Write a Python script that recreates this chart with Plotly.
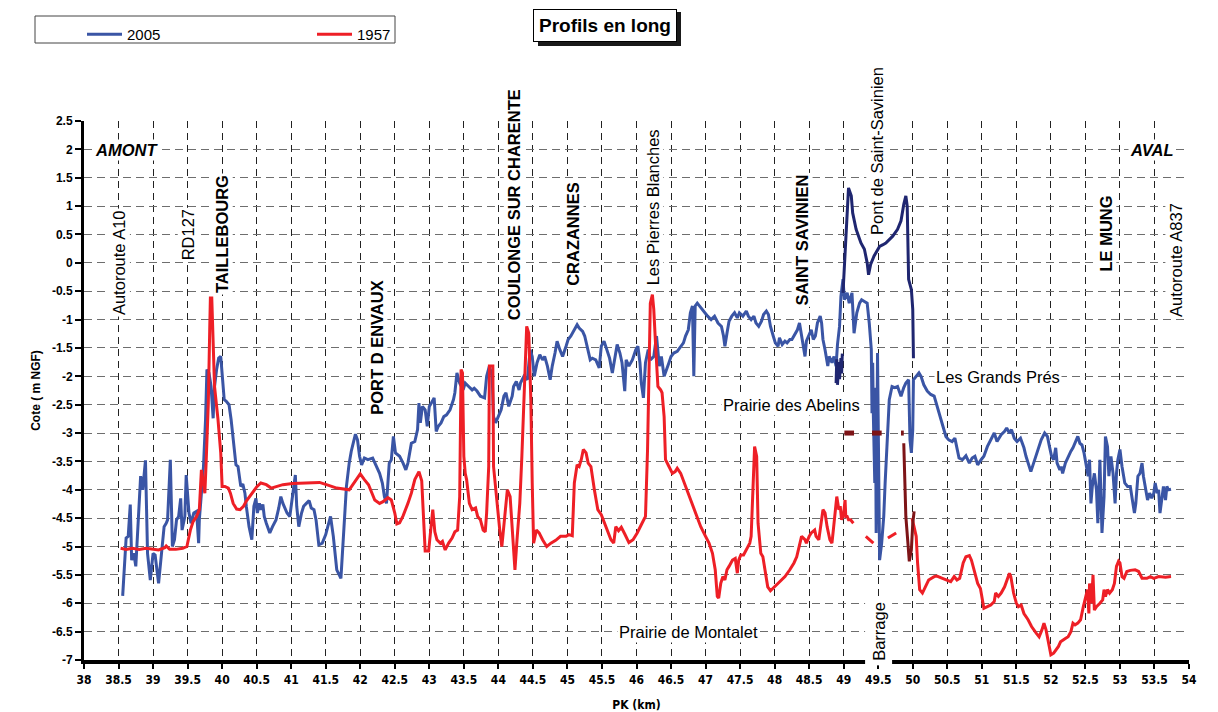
import plotly.graph_objects as go

# ---------------- data (PK in km, cote in m NGF) ----------------
profil_2005 = [
    (38.56, -5.87), (38.61, -4.85), (38.64, -4.82), (38.67, -4.26), (38.69, -5.24), (38.72, -5.12),
    (38.75, -5.35), (38.82, -3.76), (38.85, -4.0), (38.89, -3.48), (38.92, -5.12), (38.96, -5.59),
    (39.0, -5.12), (39.03, -5.15), (39.08, -5.65), (39.12, -5.12), (39.16, -4.65), (39.19, -4.59),
    (39.21, -4.53), (39.25, -3.47), (39.28, -5.0), (39.31, -4.88), (39.34, -4.53), (39.37, -4.47),
    (39.40, -4.15), (39.42, -4.71), (39.46, -4.47), (39.48, -3.74), (39.52, -4.41), (39.55, -4.59),
    (39.59, -4.41), (39.63, -4.38), (39.66, -4.94), (39.67, -4.53), (39.70, -4.06), (39.73, -3.59),
    (39.76, -2.76), (39.78, -1.88), (39.81, -1.94), (39.84, -2.18), (39.87, -2.74), (39.89, -2.18),
    (39.92, -1.88), (39.95, -1.68), (39.98, -1.65), (40.0, -2.0), (40.03, -2.41), (40.06, -2.44),
    (40.1, -2.5), (40.13, -2.76), (40.16, -3.12), (40.2, -3.56), (40.23, -3.59), (40.27, -3.94),
    (40.3, -3.9), (40.33, -4.06), (40.35, -4.29), (40.39, -4.65), (40.43, -4.88), (40.46, -4.29),
    (40.49, -4.15), (40.51, -4.41), (40.54, -4.24), (40.56, -4.35), (40.59, -4.26), (40.61, -4.47),
    (40.64, -4.59), (40.69, -4.76), (40.73, -4.65), (40.78, -4.53), (40.82, -4.32), (40.85, -4.12),
    (40.88, -4.24), (40.9, -4.29), (40.94, -4.41), (40.98, -4.47), (41.02, -4.12), (41.06, -3.74),
    (41.08, -4.29), (41.11, -4.65), (41.15, -4.41), (41.18, -4.29), (41.22, -4.24), (41.26, -4.19),
    (41.29, -4.32), (41.33, -4.35), (41.36, -4.53), (41.4, -4.97), (41.45, -4.94), (41.5, -4.79),
    (41.53, -4.65), (41.57, -4.47), (41.61, -4.82), (41.66, -5.41), (41.72, -5.56), (41.75, -5.0),
    (41.8, -3.94), (41.84, -3.53), (41.87, -3.32), (41.93, -3.02), (41.96, -3.12), (41.99, -3.41),
    (42.02, -3.56), (42.06, -3.44), (42.11, -3.47), (42.18, -3.44), (42.23, -3.59), (42.28, -3.71),
    (42.32, -3.88), (42.35, -4.12), (42.38, -4.24), (42.42, -3.53), (42.45, -3.47), (42.48, -3.06),
    (42.51, -3.35), (42.57, -3.41), (42.62, -3.53), (42.66, -3.65), (42.69, -3.53), (42.74, -3.18),
    (42.79, -3.15), (42.83, -2.94), (42.85, -2.47), (42.87, -2.82), (42.9, -2.53), (42.94, -2.59),
    (42.97, -2.88), (43.0, -2.53), (43.03, -2.47), (43.07, -2.38), (43.1, -2.97), (43.13, -2.88),
    (43.17, -2.82), (43.21, -2.71), (43.25, -2.68), (43.3, -2.59), (43.35, -2.41), (43.37, -2.29),
    (43.4, -1.94), (43.44, -2.12), (43.49, -2.24), (43.52, -2.12), (43.57, -2.18), (43.62, -2.24),
    (43.65, -2.21), (43.69, -2.26), (43.74, -2.35), (43.8, -2.38), (43.83, -2.0), (43.87, -1.82),
    (43.91, -2.0), (43.93, -2.71), (43.96, -2.82), (44.0, -2.71), (44.04, -2.59), (44.08, -2.35),
    (44.11, -2.29), (44.15, -2.53), (44.2, -2.35), (44.22, -2.18), (44.26, -2.09), (44.3, -2.24),
    (44.32, -2.12), (44.37, -2.0), (44.42, -2.06), (44.46, -1.53), (44.49, -1.65), (44.52, -2.0),
    (44.56, -1.76), (44.6, -1.62), (44.64, -1.71), (44.67, -1.65), (44.71, -1.82), (44.75, -2.06),
    (44.78, -1.82), (44.82, -1.59), (44.85, -1.38), (44.89, -1.53), (44.93, -1.65), (44.98, -1.47),
    (45.01, -1.35), (45.05, -1.29), (45.1, -1.18), (45.14, -1.09), (45.17, -1.15), (45.22, -1.21),
    (45.25, -1.29), (45.29, -1.53), (45.33, -1.71), (45.36, -1.68), (45.41, -1.71), (45.46, -1.85),
    (45.49, -1.47), (45.53, -1.38), (45.57, -1.53), (45.61, -1.68), (45.65, -1.94), (45.68, -1.71),
    (45.72, -1.44), (45.76, -1.59), (45.79, -1.76), (45.83, -2.26), (45.85, -1.71), (45.89, -1.82),
    (45.94, -1.71), (45.99, -1.53), (46.02, -1.47), (46.05, -1.76), (46.07, -2.12), (46.1, -2.38),
    (46.13, -1.76), (46.17, -1.53), (46.2, -1.71), (46.25, -1.65), (46.29, -1.29), (46.33, -1.82),
    (46.36, -1.65), (46.4, -2.0), (46.44, -1.88), (46.47, -1.76), (46.5, -1.65), (46.54, -1.59),
    (46.59, -1.56), (46.64, -1.47), (46.68, -1.41), (46.71, -1.29), (46.75, -1.18), (46.78, -0.88),
    (46.81, -0.76), (46.83, -2.0), (46.85, -0.76), (46.88, -0.71), (46.93, -0.79), (46.98, -0.88),
    (47.03, -0.94), (47.08, -1.0), (47.13, -0.94), (47.18, -1.06), (47.23, -1.12), (47.26, -1.29),
    (47.28, -1.47), (47.31, -1.24), (47.34, -1.03), (47.38, -0.94), (47.42, -0.88), (47.46, -0.97),
    (47.49, -0.88), (47.54, -0.94), (47.59, -0.85), (47.62, -0.94), (47.66, -1.0), (47.7, -0.94),
    (47.73, -1.06), (47.77, -1.12), (47.81, -1.03), (47.84, -0.91), (47.88, -0.85), (47.91, -0.91),
    (47.94, -1.12), (47.98, -1.29), (48.01, -1.41), (48.05, -1.47), (48.07, -1.32), (48.11, -1.44),
    (48.15, -1.38), (48.18, -1.41), (48.22, -1.35), (48.25, -1.35), (48.29, -1.26), (48.33, -1.18),
    (48.36, -1.06), (48.39, -1.29), (48.41, -1.41), (48.44, -1.65), (48.46, -1.38), (48.49, -1.29),
    (48.51, -1.24), (48.53, -1.18), (48.56, -1.35), (48.59, -1.29), (48.62, -1.06), (48.66, -0.94),
    (48.68, -1.06), (48.7, -1.35), (48.73, -1.53), (48.77, -1.82), (48.79, -1.65), (48.83, -1.76),
    (48.86, -1.65), (48.89, -1.82), (48.91, -1.44), (48.94, -1.12), (48.96, -0.59), (48.99, -0.29),
    (49.01, -0.65), (49.05, -0.53), (49.08, -0.71), (49.12, -0.53), (49.15, -1.24), (49.19, -0.88),
    (49.23, -0.71), (49.26, -0.65), (49.3, -0.68), (49.34, -0.71), (49.37, -1.06), (49.4, -1.53),
    (49.41, -2.65), (49.42, -1.76), (49.43, -2.71), (49.45, -3.88), (49.46, -2.2), (49.47, -4.76),
    (49.49, -1.59), (49.51, -4.47), (49.52, -5.24), (49.55, -4.94), (49.58, -4.47), (49.6, -3.88),
    (49.63, -3.0), (49.66, -2.41), (49.7, -2.18), (49.74, -2.2), (49.78, -2.18), (49.83, -2.35),
    (49.87, -2.2), (49.9, -2.12), (49.94, -2.06), (49.96, -3.12), (49.98, -3.35), (50.0, -2.94),
    (50.01, -2.06), (50.05, -2.0), (50.09, -1.94), (50.12, -2.0), (50.16, -2.15), (50.21, -2.26),
    (50.26, -2.32), (50.31, -2.35), (50.34, -2.47), (50.38, -2.65), (50.41, -2.76), (50.45, -2.94),
    (50.48, -3.06), (50.52, -3.12), (50.57, -3.15), (50.61, -3.09), (50.65, -3.29), (50.67, -3.44),
    (50.72, -3.47), (50.77, -3.4), (50.82, -3.53), (50.86, -3.44), (50.9, -3.41), (50.94, -3.56),
    (50.99, -3.47), (51.03, -3.41), (51.08, -3.24), (51.13, -3.12), (51.18, -3.0), (51.22, -3.15),
    (51.25, -3.09), (51.28, -3.03), (51.33, -2.97), (51.36, -2.91), (51.4, -3.0), (51.43, -2.94),
    (51.47, -3.09), (51.51, -3.15), (51.56, -3.09), (51.61, -3.26), (51.64, -3.41), (51.68, -3.59),
    (51.71, -3.68), (51.75, -3.53), (51.79, -3.38), (51.82, -3.26), (51.86, -3.12), (51.91, -3.0),
    (51.95, -3.06), (51.98, -3.24), (52.01, -3.41), (52.04, -3.47), (52.07, -3.26), (52.09, -3.53),
    (52.13, -3.65), (52.15, -3.59), (52.17, -3.71), (52.21, -3.53), (52.25, -3.41), (52.29, -3.32),
    (52.32, -3.26), (52.35, -3.18), (52.39, -3.06), (52.42, -3.18), (52.45, -3.21), (52.48, -3.35),
    (52.51, -3.53), (52.54, -3.76), (52.56, -3.47), (52.58, -4.24), (52.6, -3.94), (52.63, -3.71),
    (52.66, -4.0), (52.68, -4.59), (52.71, -3.47), (52.73, -4.35), (52.74, -4.76), (52.77, -4.12),
    (52.79, -3.06), (52.82, -3.24), (52.84, -3.76), (52.87, -3.41), (52.9, -3.71), (52.93, -4.24),
    (52.95, -3.71), (52.97, -3.47), (53.0, -3.29), (53.03, -3.59), (53.07, -3.88), (53.11, -3.94),
    (53.15, -3.94), (53.18, -4.18), (53.21, -4.41), (53.23, -4.24), (53.26, -3.76), (53.29, -3.71),
    (53.32, -3.53), (53.34, -3.76), (53.37, -3.94), (53.4, -4.18), (53.43, -4.06), (53.46, -4.15),
    (53.49, -4.06), (53.51, -3.88), (53.54, -4.06), (53.56, -4.0), (53.58, -4.41), (53.61, -4.12),
    (53.63, -3.94), (53.66, -4.18), (53.68, -3.94), (53.7, -4.0), (53.74, -3.99),
]

profil_1957 = [
    (38.53, -5.03), (38.61, -5.05), (38.7, -5.03), (38.8, -5.05), (38.9, -5.03), (39.0, -5.05),
    (39.08, -5.06), (39.17, -5.02), (39.19, -4.99), (39.24, -5.05), (39.33, -5.05), (39.43, -5.03),
    (39.49, -5.0), (39.54, -4.71), (39.58, -4.56), (39.63, -4.47), (39.67, -4.35), (39.7, -3.65),
    (39.72, -3.82), (39.75, -4.06), (39.77, -3.47), (39.8, -2.47), (39.82, -1.2), (39.83, -0.62),
    (39.85, -0.62), (39.87, -1.4), (39.89, -2.18), (39.94, -2.76), (39.98, -3.35), (40.0, -3.94),
    (40.04, -3.94), (40.09, -3.97), (40.12, -4.06), (40.16, -4.24), (40.21, -4.34), (40.26, -4.35),
    (40.31, -4.29), (40.35, -4.2), (40.43, -4.06), (40.5, -3.95), (40.56, -3.88), (40.64, -3.91),
    (40.71, -3.97), (40.78, -3.94), (40.88, -3.91), (41.02, -3.89), (41.22, -3.88), (41.41, -3.87),
    (41.51, -3.91), (41.66, -3.97), (41.84, -4.0), (41.92, -3.85), (42.0, -3.72), (42.06, -3.82),
    (42.12, -3.91), (42.17, -4.06), (42.21, -4.18), (42.28, -4.24), (42.33, -4.21), (42.4, -4.14),
    (42.45, -4.18), (42.5, -4.41), (42.53, -4.6), (42.57, -4.58), (42.62, -4.46), (42.69, -4.24),
    (42.74, -4.06), (42.79, -3.82), (42.85, -3.68), (42.89, -3.84), (42.92, -4.56), (42.94, -5.08),
    (42.99, -5.08), (43.02, -4.73), (43.05, -4.35), (43.08, -4.74), (43.11, -4.88), (43.16, -4.94),
    (43.19, -4.91), (43.23, -5.06), (43.28, -4.94), (43.33, -4.85), (43.37, -4.74), (43.41, -4.71),
    (43.44, -4.12), (43.46, -1.88), (43.48, -1.94), (43.5, -3.41), (43.52, -3.71), (43.54, -3.82),
    (43.58, -4.24), (43.62, -4.35), (43.67, -4.32), (43.7, -4.47), (43.74, -4.53), (43.78, -4.71),
    (43.81, -4.74), (43.83, -4.41), (43.86, -3.59), (43.87, -1.82), (43.92, -1.82), (43.93, -3.59),
    (43.96, -4.0), (43.98, -4.24), (44.02, -4.71), (44.05, -5.0), (44.09, -4.47), (44.13, -4.0),
    (44.17, -4.12), (44.2, -4.76), (44.24, -5.41), (44.27, -4.88), (44.31, -4.24), (44.34, -3.41),
    (44.38, -2.12), (44.41, -1.12), (44.44, -1.24), (44.47, -2.41), (44.49, -3.88), (44.51, -4.94),
    (44.55, -4.71), (44.59, -4.76), (44.64, -4.88), (44.7, -5.0), (44.76, -4.94), (44.83, -4.89),
    (44.9, -4.82), (44.98, -4.82), (45.02, -4.79), (45.07, -4.81), (45.1, -3.88), (45.14, -3.56),
    (45.17, -3.59), (45.2, -3.47), (45.23, -3.29), (45.27, -3.35), (45.3, -3.53), (45.34, -3.59),
    (45.39, -4.0), (45.44, -4.35), (45.49, -4.44), (45.54, -4.59), (45.58, -4.7), (45.63, -4.88),
    (45.67, -4.94), (45.7, -4.65), (45.74, -4.72), (45.78, -4.66), (45.83, -4.78), (45.89, -4.93),
    (45.95, -4.88), (46.01, -4.76), (46.08, -4.59), (46.13, -4.47), (46.16, -3.29), (46.18, -1.53),
    (46.2, -0.71), (46.23, -0.56), (46.25, -0.82), (46.28, -1.53), (46.31, -2.18), (46.35, -2.24),
    (46.37, -2.29), (46.4, -2.71), (46.42, -3.47), (46.47, -3.59), (46.52, -3.71), (46.56, -3.68),
    (46.59, -3.62), (46.64, -3.71), (46.71, -3.94), (46.79, -4.18), (46.86, -4.41), (46.93, -4.65),
    (47.0, -4.82), (47.05, -4.94), (47.1, -5.12), (47.14, -5.41), (47.17, -5.88), (47.19, -5.91),
    (47.22, -5.65), (47.25, -5.53), (47.28, -5.59), (47.31, -5.41), (47.34, -5.35), (47.39, -5.24),
    (47.43, -5.21), (47.46, -5.47), (47.48, -5.24), (47.51, -5.15), (47.55, -5.15), (47.59, -5.06),
    (47.64, -4.94), (47.66, -4.82), (47.69, -3.88), (47.71, -3.24), (47.74, -3.41), (47.76, -4.59),
    (47.8, -5.12), (47.83, -5.18), (47.86, -5.41), (47.9, -5.71), (47.94, -5.78), (48.0, -5.71),
    (48.07, -5.62), (48.15, -5.53), (48.22, -5.41), (48.28, -5.29), (48.32, -5.18), (48.35, -5.0),
    (48.39, -4.82), (48.44, -4.88), (48.46, -4.94), (48.5, -4.82), (48.53, -4.76), (48.58, -4.71),
    (48.6, -4.82), (48.64, -4.88), (48.67, -4.65), (48.7, -4.35), (48.73, -4.41), (48.76, -4.65),
    (48.8, -4.88), (48.83, -4.94), (48.85, -4.71), (48.88, -4.35), (48.9, -4.12), (48.93, -4.35),
    (48.95, -4.29), (48.97, -4.53), (49.0, -4.41), (49.02, -4.18), (49.03, -4.47), (49.05, -4.47),
    (49.07, -4.53), (49.1, -4.53), (49.14, -4.59),
    (None, None),
    (49.99, -4.5), (50.01, -4.59), (50.05, -4.82), (50.07, -5.29), (50.1, -5.76), (50.14, -5.82),
    (50.18, -5.71), (50.23, -5.59), (50.31, -5.53), (50.35, -5.52), (50.43, -5.56), (50.5, -5.6),
    (50.55, -5.62), (50.6, -5.53), (50.64, -5.59), (50.68, -5.56), (50.73, -5.29), (50.77, -5.18),
    (50.82, -5.16), (50.85, -5.24), (50.89, -5.41), (50.94, -5.65), (50.98, -5.74), (51.01, -6.0),
    (51.03, -6.09), (51.08, -6.06), (51.13, -6.03), (51.18, -5.97), (51.2, -5.82), (51.24, -5.88),
    (51.28, -5.82), (51.33, -5.71), (51.36, -5.59), (51.4, -5.47), (51.42, -5.53), (51.46, -5.82),
    (51.5, -6.0), (51.53, -6.06), (51.57, -6.03), (51.61, -6.18), (51.67, -6.29), (51.72, -6.41),
    (51.79, -6.53), (51.83, -6.59), (51.87, -6.47), (51.9, -6.35), (51.93, -6.47), (51.97, -6.71),
    (52.0, -6.91), (52.04, -6.88), (52.08, -6.82), (52.11, -6.76), (52.14, -6.68), (52.17, -6.65),
    (52.21, -6.62), (52.25, -6.59), (52.29, -6.5), (52.32, -6.35), (52.35, -6.38), (52.39, -6.35),
    (52.43, -6.29), (52.47, -6.06), (52.5, -5.88), (52.53, -5.76), (52.55, -6.18), (52.56, -5.65),
    (52.59, -6.0), (52.61, -5.5), (52.63, -6.12), (52.66, -6.06), (52.71, -6.0), (52.75, -5.94),
    (52.77, -5.76), (52.79, -5.88), (52.82, -5.76), (52.85, -5.82), (52.89, -5.76), (52.92, -5.65),
    (52.95, -5.35), (52.98, -5.26), (53.0, -5.29), (53.03, -5.53), (53.06, -5.56), (53.1, -5.44),
    (53.15, -5.42), (53.22, -5.41), (53.27, -5.44), (53.32, -5.56), (53.39, -5.56), (53.44, -5.53),
    (53.49, -5.56), (53.56, -5.53), (53.66, -5.54), (53.74, -5.53),
]

# Saint-Savinien branch (2005, dark blue)
bras_st_savinien = [
    (48.99, -0.53), (49.03, 0.4), (49.05, 1.1), (49.07, 1.32), (49.11, 1.18), (49.13, 0.88),
    (49.18, 0.59), (49.25, 0.35), (49.3, 0.24), (49.34, 0.0), (49.36, -0.21), (49.39, -0.03),
    (49.44, 0.12), (49.52, 0.29), (49.57, 0.32), (49.61, 0.35), (49.66, 0.41), (49.71, 0.47),
    (49.78, 0.59), (49.83, 0.74), (49.87, 1.03), (49.9, 1.18), (49.92, 1.0), (49.94, -0.29),
    (49.98, -0.47), (50.0, -0.82), (50.01, -1.68),
]
bras_amont_2005 = [(48.89, -2.12), (48.9, -1.7), (48.91, -2.15), (48.93, -1.75), (48.94, -2.05),
                   (48.96, -1.68), (48.97, -1.95), (48.98, -1.6)]
# 1957 branch / weirs (dark red)
bras_1957 = [(49.87, -3.18), (49.88, -3.59), (49.9, -4.47), (49.93, -4.94), (49.95, -5.26),
             (49.98, -5.06), (50.0, -4.59), (50.02, -4.38)]
seuils_1957 = [(49.01, -3.0), (49.15, -3.0), (None, None), (49.41, -3.0), (49.55, -3.0),
               (None, None), (49.83, -3.0), (49.87, -3.0)]
barrage_1957 = [(49.32, -4.82), (49.43, -4.94), (None, None), (49.64, -4.85), (49.76, -4.76)]

x_ticks = [38 + 0.5 * i for i in range(33)]
x_ticktext = [("%g" % v) for v in x_ticks]
y_ticks = [-7 + 0.5 * i for i in range(20)]
y_ticktext = [("%g" % v) for v in y_ticks]

labels_vert = [  # text, PK, cote, bold
    ("Autoroute A10", 38.51, 0.0, False),
    ("RD127", 39.51, 0.49, False),
    ("TAILLEBOURG", 40.0, 0.51, True),
    ("PORT D ENVAUX", 42.24, -1.5, True),
    ("COULONGE SUR CHARENTE", 44.23, 1.02, True),
    ("CRAZANNES", 45.08, 0.51, True),
    ("Les Pierres Blanches", 46.24, 0.98, False),
    ("SAINT SAVINIEN", 48.4, 0.4, True),
    ("Pont de Saint-Savinien", 49.48, 1.97, False),
    ("LE MUNG", 52.8, 0.52, True),
    ("Autoroute A837", 53.81, 0.05, False),
    ("Barrage", 49.5, -6.5, False),
]
labels_horiz = [
    ("<b><i>AMONT</i></b>", 38.62, 1.99),
    ("<b><i>AVAL</i></b>", 53.46, 1.99),
    ("Les Grands Prés", 51.24, -2.01),
    ("Prairie des Abelins", 48.24, -2.5),
    ("Prairie de Montalet", 46.75, -6.5),
]

# ---------------- styling ----------------
W, H = 1218, 712
L, R, T, B = 84, 29, 121, 52
PW, PH = W - L - R, H - T - B
FONT = "Liberation Sans, Arial, Helvetica, sans-serif"
NARROW = "Liberation Sans Narrow, Arial Narrow, DejaVu Sans Condensed, sans-serif"
BLUE, RED, NAVY, DRED = "#3a55a5", "#ee1f26", "#1f2670", "#7d1417"


def px_x(p):
    return (p - L) / PW


def px_y(p):
    return (H - B - p) / PH


def xs(pts):
    return [p[0] for p in pts]


def ys(pts):
    return [p[1] for p in pts]


fig = go.Figure()
fig.add_trace(go.Scatter(x=xs(profil_2005), y=ys(profil_2005), mode="lines", name="2005",
                         line=dict(color=BLUE, width=3)))
fig.add_trace(go.Scatter(x=xs(profil_1957), y=ys(profil_1957), mode="lines", name="1957",
                         line=dict(color=RED, width=3), connectgaps=False))
fig.add_trace(go.Scatter(x=xs(bras_st_savinien), y=ys(bras_st_savinien), mode="lines",
                         showlegend=False, line=dict(color=NAVY, width=3)))
fig.add_trace(go.Scatter(x=xs(bras_amont_2005), y=ys(bras_amont_2005), mode="lines",
                         showlegend=False, line=dict(color=NAVY, width=3)))
fig.add_trace(go.Scatter(x=xs(barrage_1957), y=ys(barrage_1957), mode="lines",
                         showlegend=False, line=dict(color=RED, width=3), connectgaps=False))
fig.add_trace(go.Scatter(x=xs(bras_1957), y=ys(bras_1957), mode="lines",
                         showlegend=False, line=dict(color=DRED, width=3)))
fig.add_trace(go.Scatter(x=xs(seuils_1957), y=ys(seuils_1957), mode="lines",
                         showlegend=False, line=dict(color=DRED, width=5), connectgaps=False))

ann = []
for text, x, y, bold in labels_vert:
    ann.append(dict(x=x, y=y, xref="x", yref="y", text=("<b>%s</b>" % text) if bold else text,
                    textangle=-90, showarrow=False, xanchor="center", yanchor="middle",
                    font=dict(family=FONT, size=16.5, color="black"),
                    bgcolor="white", borderpad=4 if text == "Barrage" else 1))
for text, x, y in labels_horiz:
    ann.append(dict(x=x, y=y, xref="x", yref="y", text=text, showarrow=False,
                    xanchor="center", yanchor="middle",
                    font=dict(family=FONT, size=16.5, color="black"),
                    bgcolor="white", borderpad=1))
ann.append(dict(x=px_x(604.5), y=px_y(25), xref="paper", yref="paper",
                text="<b>Profils en long</b>", showarrow=False, xanchor="center", yanchor="middle",
                font=dict(family=FONT, size=19, color="black"), bgcolor="white",
                bordercolor="black", borderwidth=1, borderpad=5))

shapes = [
    dict(type="rect", xref="paper", yref="paper", x0=px_x(538), x1=px_x(681), y0=px_y(46), y1=px_y(12),
         fillcolor="#1a1a1a", line=dict(width=0), layer="above"),
    dict(type="rect", xref="paper", yref="paper", x0=px_x(35), x1=px_x(395), y0=px_y(43), y1=px_y(16),
         fillcolor="rgba(0,0,0,0)", line=dict(color="#444", width=1), layer="above"),
]

fig.update_layout(
    width=W, height=H, margin=dict(l=L, r=R, t=T, b=B, autoexpand=False),
    paper_bgcolor="white", plot_bgcolor="white",
    font=dict(family=FONT, color="black"),
    showlegend=True,
    legend=dict(orientation="h", x=px_x(82), xanchor="left", y=px_y(18), yanchor="top",
                entrywidth=180, entrywidthmode="pixels", itemwidth=35,
                bgcolor="rgba(0,0,0,0)", borderwidth=0, font=dict(family=FONT, size=15),
                traceorder="normal"),
    annotations=ann, shapes=shapes,
)
fig.update_xaxes(range=[38, 54], tickvals=x_ticks, ticktext=x_ticktext,
                 showgrid=True, gridcolor="#222", gridwidth=1, griddash="7px,5px",
                 zeroline=False, showline=True, linecolor="black", linewidth=4,
                 ticks="outside", ticklen=5, tickwidth=2, tickcolor="black",
                 ticklabelstandoff=1,
                 tickfont=dict(family=NARROW, size=12, color="black", weight="bold"),
                 title=dict(text="<b>PK (km)</b>", font=dict(family=NARROW, size=12), standoff=17),
                 automargin=False)
fig.update_yaxes(range=[-7, 2.5], tickvals=y_ticks, ticktext=y_ticktext,
                 showgrid=True, gridcolor="#6e6e6e", gridwidth=1.3, griddash="8px,5px",
                 zeroline=False, showline=True, linecolor="black", linewidth=3,
                 ticks="outside", ticklen=6, tickwidth=2, tickcolor="black",
                 tickfont=dict(family=FONT, size=12, color="black", weight="bold"),
                 title=dict(text="<b>Cote ( m NGF)</b>", font=dict(family=FONT, size=12), standoff=9),
                 automargin=False)

fig.write_html("out.html")
